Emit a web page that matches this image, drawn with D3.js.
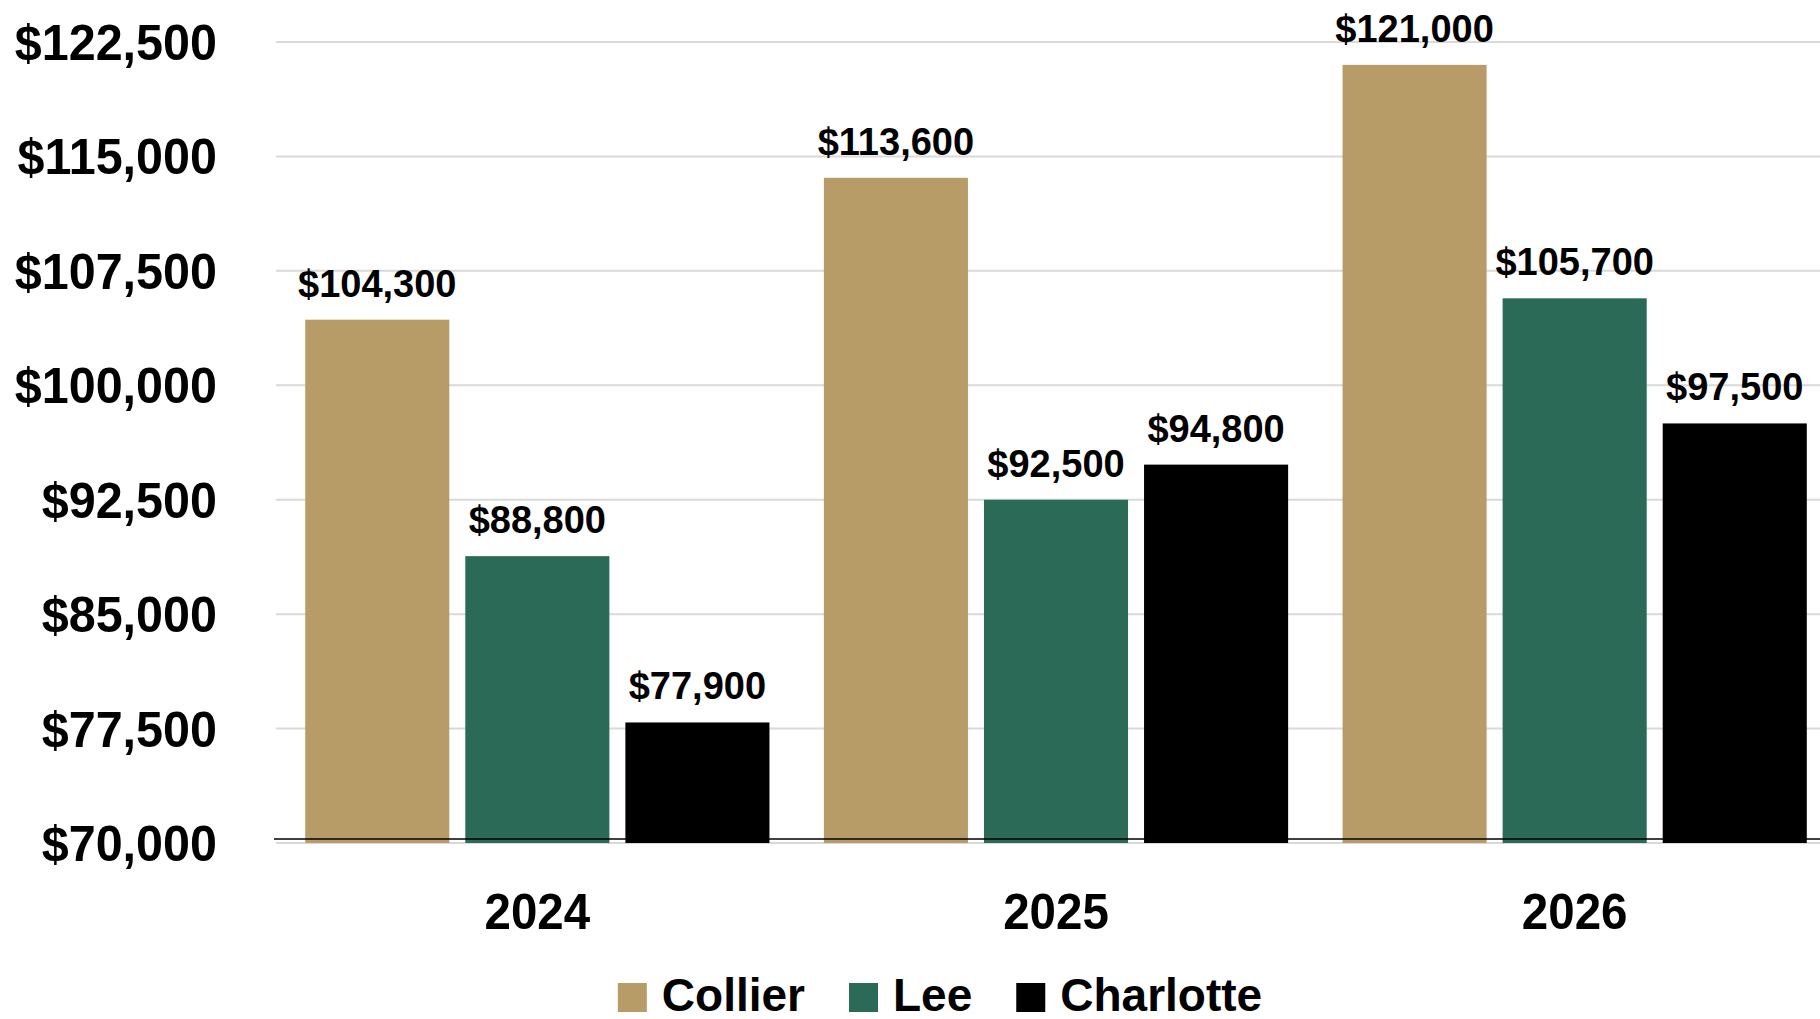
<!DOCTYPE html>
<html>
<head>
<meta charset="utf-8">
<script src="https://cdn.jsdelivr.net/npm/d3@7"></script>
<style>
  html, body { margin: 0; padding: 0; background: #fff; }
  svg { display: block; }
</style>
</head>
<body>
<div id="chart"></div>
<script>
// data
var years = ["2024", "2025", "2026"];
var counties = ["Collier", "Lee", "Charlotte"];
var collier = [104300, 113600, 121000];
var lee = [88800, 92500, 105700];
var charlotte = [77900, 94800, 97500];
var yTicks = [70000, 77500, 85000, 92500, 100000, 107500, 115000, 122500];

var seriesVals = [collier, lee, charlotte];
var colors = ["#b89c68", "#2a6a57", "#000000"];

var W = 1820, H = 1019;
var plotL = 278, plotR = 1834, plotT = 42, plotB = 843;
var fontFam = "'Liberation Sans', Arial, sans-serif";

var svg = d3.select("#chart").append("svg").attr("width", W).attr("height", H);

var x0 = d3.scaleBand().domain(years).range([plotL, plotR]).paddingInner(0).paddingOuter(0);
var x1 = d3.scaleBand().domain(counties).range([0, x0.bandwidth()]).paddingInner(0.1).paddingOuter(0.17);
var y = d3.scaleLinear().domain([70000, 122500]).range([plotB, plotT]);

var fmt = d3.format("$,");

// gridlines
svg.append("g").selectAll("line").data(yTicks).enter().append("line")
  .attr("x1", plotL - 2).attr("x2", W)
  .attr("y1", function(d){return y(d);}).attr("y2", function(d){return y(d);})
  .attr("stroke", "#d9d9d9").attr("stroke-width", 2);

// y labels (slightly condensed)
svg.append("g").selectAll("text").data(yTicks).enter().append("text")
  .attr("transform", function(d){return "translate(217," + y(d) + ") scale(0.97,1)";})
  .attr("dy", "0.36em")
  .attr("text-anchor", "end")
  .attr("font-family", fontFam)
  .attr("font-weight", "bold").attr("font-size", 50)
  .text(function(d){return fmt(d);});

// bars
var rows = [];
years.forEach(function(yr, i){
  counties.forEach(function(c, j){
    rows.push({year: yr, county: c, value: seriesVals[j][i], color: colors[j]});
  });
});

svg.append("g").selectAll("rect").data(rows).enter().append("rect")
  .attr("x", function(d){return x0(d.year) + x1(d.county);})
  .attr("y", function(d){return y(d.value);})
  .attr("width", x1.bandwidth())
  .attr("height", function(d){return plotB - y(d.value);})
  .attr("fill", function(d){return d.color;});

// axis line
svg.append("line").attr("x1", plotL - 4).attr("x2", W)
  .attr("y1", plotB - 4).attr("y2", plotB - 4)
  .attr("stroke", "#000").attr("stroke-width", 1.5);

// data labels
svg.append("g").selectAll("text").data(rows).enter().append("text")
  .attr("x", function(d){return x0(d.year) + x1(d.county) + x1.bandwidth()/2;})
  .attr("y", function(d){return y(d.value) - 23;})
  .attr("text-anchor", "middle")
  .attr("font-family", fontFam)
  .attr("font-weight", "bold").attr("font-size", 38)
  .text(function(d){return fmt(d.value);});

// year labels
svg.append("g").selectAll("text").data(years).enter().append("text")
  .attr("transform", function(d){return "translate(" + (x0(d) + x0.bandwidth()/2) + ",929) scale(0.95,1)";})
  .attr("text-anchor", "middle")
  .attr("font-family", fontFam)
  .attr("font-weight", "bold").attr("font-size", 50)
  .text(function(d){return d;});

// legend
var sq = 29, gapIn = 15, gapOut = 44;
var items = svg.append("g").selectAll("g").data(counties).enter().append("g");
items.append("rect").attr("width", sq).attr("height", sq).attr("y", 983)
  .attr("fill", function(d, i){return colors[i];});
items.append("text").attr("y", 1011)
  .attr("font-family", fontFam)
  .attr("font-weight", "bold").attr("font-size", 46)
  .text(function(d){return d;});
var widths = [];
items.select("text").each(function(){ widths.push(this.getComputedTextLength()); });
var total = 0;
widths.forEach(function(w, i){ total += sq + gapIn + w + (i < widths.length - 1 ? gapOut : 0); });
var cx = 940 - total/2;
items.each(function(d, i){
  var g = d3.select(this);
  g.select("rect").attr("x", cx);
  g.select("text").attr("x", cx + sq + gapIn);
  cx += sq + gapIn + widths[i] + gapOut;
});
</script>
</body>
</html>
